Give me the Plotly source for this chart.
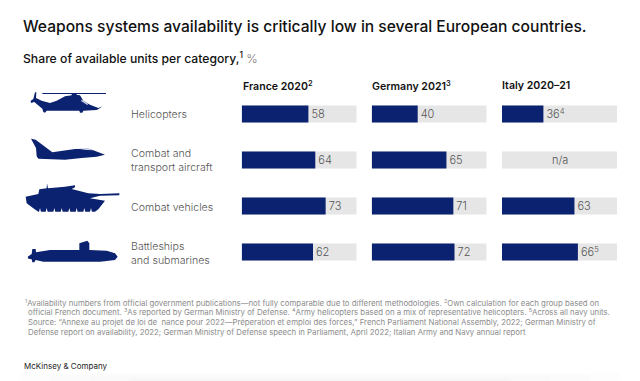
import plotly.graph_objects as go

W, H = 640, 381

title = "Weapons systems availability is critically low in several European countries."
subtitle = "Share of available units per category,<sup>1</sup> <span style='color:#777777;font-weight:300'>%</span>"
categories = ["Helicopters", "Combat and<br>transport aircraft", "Combat vehicles", "Battleships<br>and submarines"]
countries = ["France 2020<sup>2</sup>", "Germany 2021<sup>3</sup>", "Italy 2020\u201321"]
france = [58, 64, 73, 62]
germany = [40, 65, 71, 72]
italy = [36, None, 63, 66]
france_labels = ["58", "64", "73", "62"]
germany_labels = ["40", "65", "71", "72"]
italy_labels = ["36<sup>4</sup>", "", "63", "66<sup>5</sup>"]
full = [100, 100, 100, 100]
footnotes = [
    "<sup>1</sup>Availability numbers from official government publications\u2014not fully comparable due to different methodologies. <sup>2</sup>Own calculation for each group based on",
    "official French document. <sup>3</sup>As reported by German Ministry of Defense. <sup>4</sup>Army helicopters based on a mix of representative helicopters. <sup>5</sup>Across all navy units.",
    "Source: \u201cAnnexe au projet de loi de  nance pour 2022\u2014Pr\u00e9peration et emploi des forces,\u201d French Parliament National Assembly, 2022; German Ministry of",
    "Defense report on availability, 2022; German Ministry of Defense speech in Parliament, April 2022; Italian Army and Navy annual report",
]
brand = "McKinsey & Company"

NAVY = "#0B2270"
GRAY = "#E6E6E6"
FONT = "Inter"

# icon silhouettes: outlines (3x crop units)
heli = [(17,38),(25,33),(30,13),(34,13),(33,30),(50,38),(75,45),(95,38),(120,25),(150,20),(165,22),(175,38),(195,50),(220,60),(232,55),(222,62),(215,66),(175,68),(172,74),(165,74),(163,68),(110,68),(65,68),(60,74),(55,72),(52,62),(35,48),(28,42),(18,45)]
rotor = [(52,15),(243,15),(243,18),(52,18)]
hub = [(140,15),(155,15),(155,24),(140,24)]
heli_window = [(170,35),(190,48),(187,51),(168,39)]
jet = [(18,152),(32,155),(82,193),(150,183),(190,182),(205,187),(240,200),(215,206),(170,210),(120,215),(40,212),(35,205),(33,180)]
jet_window = [(165,184),(190,182),(205,187),(185,186)]
tank = [(17,50),(55,42),(58,28),(80,25),(81,10),(84,25),(135,20),(165,16),(165,22),(155,27),(205,40),(240,42),(298,40),(298,46),(240,47),(210,55),(255,62),(235,88),(225,95),(55,95),(40,85),(20,70)]
tank_teeth = [60, 80, 103, 125, 148, 170, 193, 213]
sub = [(23,230),(35,222),(37,207),(47,207),(48,217),(90,210),(178,210),(178,190),(202,182),(208,190),(208,210),(260,212),(285,220),(293,230),(285,240),(240,245),(70,245),(47,240),(43,247),(37,247),(35,238),(25,236)]

def icon(points, ox, oy, color=NAVY):
    coords = [((ox + x / 3) / W, 1 - (oy + y / 3) / H) for x, y in points]
    path = "M" + " L".join(f"{x:.5f},{y:.5f}" for x, y in coords) + " Z"
    return dict(type="path", xref="paper", yref="paper", path=path, fillcolor=color, line=dict(width=0), layer="above")

shapes = [
    icon(heli, 25, 88), icon(rotor, 25, 88), icon(hub, 25, 88), icon(heli_window, 25, 88, "#C8D0E4"),
    icon(jet, 25, 88), icon(jet_window, 25, 88, "#C8D0E4"),
    icon(tank, 20, 180), icon(sub, 20, 180),
]
for t in tank_teeth:
    shapes.append(icon([(t - 3, 96), (t + 3, 96), (t, 84)], 20, 180, "white"))
# faint shade along the bottom edge of the picture
for inset, top in ((20, 373), (50, 375), (90, 377), (130, 379)):
    shapes.append(dict(type="rect", xref="paper", yref="paper", x0=inset / W, x1=1 - inset / W, y0=0, y1=1 - top / H,
                       fillcolor="rgba(0,0,0,0.007)", line=dict(width=0), layer="below"))

fig = go.Figure()
series = [(france, france_labels), (germany, germany_labels), (italy, italy_labels)]
for i, (vals, labs) in enumerate(series):
    ax = "" if i == 0 else str(i + 1)
    fig.add_trace(go.Bar(y=categories, x=full, orientation="h", xaxis="x" + ax, yaxis="y" + ax,
                         marker=dict(color=GRAY, line=dict(width=0)), width=0.37, hoverinfo="skip"))
    fig.add_trace(go.Bar(y=categories, x=vals, orientation="h", xaxis="x" + ax, yaxis="y" + ax,
                         marker=dict(color=NAVY, line=dict(width=0)), width=0.37,
                         text=labs, textposition="outside", cliponaxis=False,
                         textfont=dict(family=FONT, size=11, color="#555555", weight=300), texttemplate="%{text}"))

def dom(a, b):
    return [a / W, b / W]

ydom = [1 - 275 / H, 1 - 91 / H]
layout = dict(
    width=W, height=H, margin=dict(l=0, r=0, t=0, b=0), autosize=False,
    paper_bgcolor="white", plot_bgcolor="rgba(0,0,0,0)", showlegend=False, barmode="overlay",
    shapes=shapes,
)
for i, d in enumerate([(241.7, 356.7), (371.7, 486.7), (502, 617)]):
    s = "" if i == 0 else str(i + 1)
    layout["xaxis" + s] = dict(domain=dom(*d), range=[0, 100], visible=False, fixedrange=True)
    layout["yaxis" + s] = dict(domain=ydom, range=[3.5, -0.5], visible=False, type="category",
                               categoryorder="array", categoryarray=categories, anchor="x" + s, fixedrange=True)
    layout["xaxis" + s]["anchor"] = "y" + s

def note(text, x, y, size, color, weight=400, xanchor="left"):
    return dict(text=text, x=x / W, y=1 - y / H, xref="paper", yref="paper", showarrow=False,
                xanchor=xanchor, yanchor="middle", align="left", borderpad=0, borderwidth=0,
                font=dict(family=FONT, size=size, color=color, weight=weight))

ann = [
    note(title, 23, 26, 15.6, "#111111", 500),
    note(subtitle, 23, 58, 12.2, "#111111", 500),
    note(brand, 23.5, 366, 8, "#222222", 400),
]
for c, x in zip(countries, (243, 372, 502)):
    ann.append(note(c, x, 86, 10.6, "#111111", 600))
for c, y in zip(categories, (114, 160, 207, 253.5)):
    ann.append(note(c, 131, y, 10.6, "#555555", 300))
for line, x, y in zip(footnotes, (25, 28, 28, 28), (302.5, 312, 322, 332)):
    ann.append(note(line, x, y, 7.8, "#8C8C8C", 400))
ann.append(dict(text="n/a", x=50, y=categories[1], xref="x3", yref="y3", showarrow=False,
                font=dict(family=FONT, size=11, color="#555555", weight=300)))
layout["annotations"] = ann
fig.update_layout(**layout)
fig.write_html("out.html", config=dict(displayModeBar=False),
               post_script="document.body.style.margin='0';document.documentElement.style.overflow='hidden';")
